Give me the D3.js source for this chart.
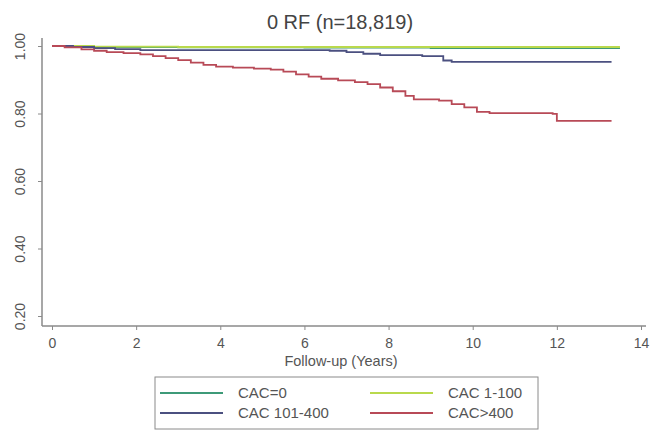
<!DOCTYPE html>
<html>
<head>
<meta charset="utf-8">
<script src="https://cdn.jsdelivr.net/npm/d3@7"></script>
<style>
  body { margin: 0; background: #fff; }
  svg { font-family: "Liberation Sans", Arial, sans-serif; }
</style>
</head>
<body>
<svg id="chart"></svg>
<script>
// ---- data ----
const seriesNames = ["CAC=0", "CAC 1-100", "CAC 101-400", "CAC>400"];
const seriesColors = ["#3e9a78", "#b9d94c", "#4b5080", "#b84a57"];

const cac0Time = [0, 1, 3, 6, 9, 13.5];
const cac0Surv = [1.0, 0.997, 0.996, 0.995, 0.994, 0.994];

const cac1Time = [0, 1, 3, 6, 9, 13.5];
const cac1Surv = [1.0, 0.998, 0.997, 0.997, 0.997, 0.997];

const cac101Time = [0, 0.5, 1.0, 1.5, 2.1, 6.6, 7.0, 7.4, 7.8, 8.8, 9.3, 9.5, 13.3];
const cac101Surv = [1.0, 0.997, 0.994, 0.991, 0.988, 0.986, 0.982, 0.977, 0.973, 0.970, 0.957, 0.953, 0.953];

const cac400Time = [0, 0.3, 0.7, 1.0, 1.3, 1.7, 2.1, 2.4, 2.7, 3.0, 3.3, 3.6, 3.9, 4.3, 4.8, 5.2, 5.5, 5.8, 6.1, 6.4, 6.8, 7.2, 7.5, 7.8, 8.1, 8.4, 8.6, 9.2, 9.5, 9.8, 10.1, 10.4, 11.9, 12.0, 13.3];
const cac400Surv = [1.0, 0.996, 0.990, 0.986, 0.982, 0.979, 0.975, 0.970, 0.964, 0.958, 0.951, 0.944, 0.939, 0.936, 0.933, 0.930, 0.924, 0.916, 0.909, 0.903, 0.898, 0.893, 0.887, 0.877, 0.866, 0.852, 0.842, 0.838, 0.828, 0.818, 0.805, 0.801, 0.799, 0.778, 0.778];

const xTicks = [0, 2, 4, 6, 8, 10, 12, 14];
const yTicks = [0.2, 0.4, 0.6, 0.8, 1.0];

const allTimes = [cac0Time, cac1Time, cac101Time, cac400Time];
const allSurv = [cac0Surv, cac1Surv, cac101Surv, cac400Surv];

// ---- layout ----
const width = 652, height = 432;
const svg = d3.select("#chart").attr("width", width).attr("height", height);

const x = d3.scaleLinear().domain([0, 14]).range([52, 641]);
const y = d3.scaleLinear().domain([0.2, 1.0]).range([316, 46]);

const axisColor = "#8a8a8a";
const textColor = "#555";
const fontFam = "Liberation Sans, Arial, sans-serif";

// title
svg.append("text")
    .attr("x", 340).attr("y", 29)
    .attr("text-anchor", "middle")
    .attr("font-size", "20px")
    .attr("fill", "#444")
    .text("0 RF (n=18,819)");

// x axis
const gx = svg.append("g").attr("transform", "translate(0,326)");
gx.append("line").attr("x1", 42).attr("x2", 646).attr("stroke", axisColor).attr("stroke-width", 1.5);
gx.call(d3.axisBottom(x).tickValues(xTicks).tickSize(4).tickSizeOuter(0).tickPadding(8).tickFormat(d3.format("d")));
gx.select(".domain").remove();
gx.selectAll(".tick line").attr("stroke", axisColor);
gx.selectAll(".tick text").attr("fill", textColor).attr("font-size", "14px").attr("font-family", fontFam);

svg.append("text")
    .attr("x", 341).attr("y", 366)
    .attr("text-anchor", "middle")
    .attr("font-size", "14.5px")
    .attr("fill", textColor)
    .text("Follow-up (Years)");

// y axis
const gy = svg.append("g").attr("transform", "translate(42,0)");
gy.append("line").attr("y1", 38).attr("y2", 326).attr("stroke", axisColor).attr("stroke-width", 1.5);
gy.call(d3.axisLeft(y).tickValues(yTicks).tickSize(4).tickSizeOuter(0).tickFormat(d3.format(".2f")));
gy.select(".domain").remove();
gy.selectAll(".tick line").attr("stroke", axisColor);
gy.selectAll(".tick text")
    .attr("fill", textColor)
    .attr("font-size", "14px")
    .attr("font-family", fontFam)
    .attr("text-anchor", "middle")
    .attr("x", 0).attr("dy", 0)
    .attr("transform", "translate(-17,0) rotate(-90)");

// curves
const line = d3.line()
    .x(d => x(d[0]))
    .y(d => y(d[1]))
    .curve(d3.curveStepAfter);

seriesNames.forEach((name, i) => {
    const pts = allTimes[i].map((t, j) => [t, allSurv[i][j]]);
    svg.append("path")
        .datum(pts)
        .attr("fill", "none")
        .attr("stroke", seriesColors[i])
        .attr("stroke-width", 1.8)
        .attr("d", line);
});

// legend
const legend = svg.append("g").attr("transform", "translate(155,377)");
legend.append("rect")
    .attr("width", 383).attr("height", 52)
    .attr("fill", "#fff")
    .attr("stroke", axisColor);

const legendPos = [[5, 16], [215, 16], [5, 36], [215, 36]];
seriesNames.forEach((name, i) => {
    const g = legend.append("g").attr("transform", `translate(${legendPos[i][0]},${legendPos[i][1]})`);
    g.append("line").attr("x1", 0).attr("x2", 63)
        .attr("stroke", seriesColors[i]).attr("stroke-width", 2);
    g.append("text").attr("x", 78).attr("y", 5)
        .attr("font-size", "15px").attr("fill", textColor)
        .text(name);
});
</script>
</body>
</html>
